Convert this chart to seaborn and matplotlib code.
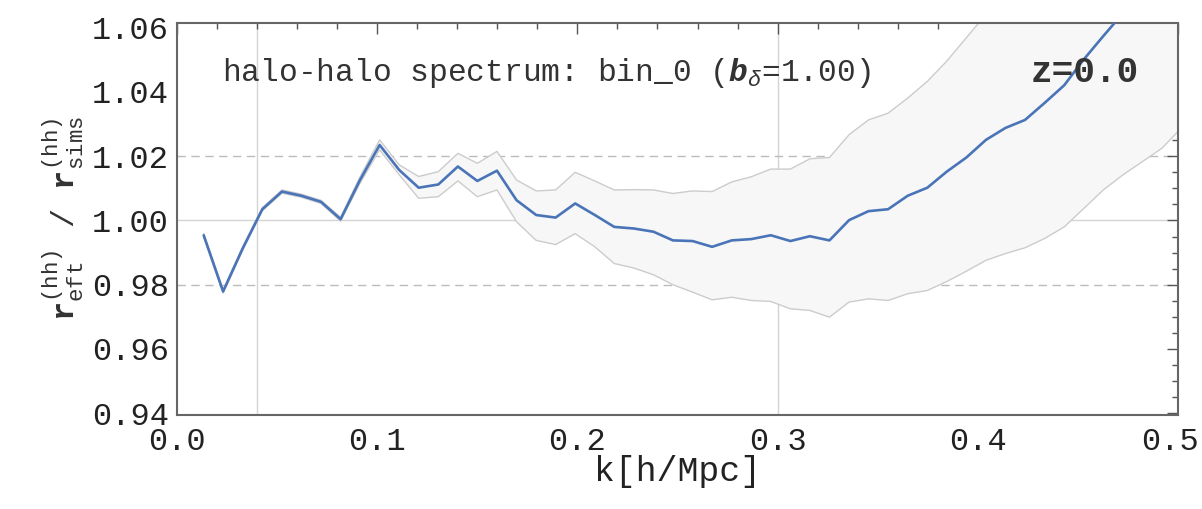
import numpy as np
import pandas as pd
import matplotlib
matplotlib.use("Agg")
import matplotlib.pyplot as plt
import matplotlib.transforms as mtransforms
import seaborn as sns
from matplotlib.ticker import MultipleLocator, FormatStrFormatter

# --- data ---
k = np.round(0.0035 + 0.00977 * np.arange(1, 52), 4)

r_ratio = [0.9954, 0.9779, 0.9913, 1.0035, 1.0090, 1.0077, 1.0058, 1.0004, 1.0126, 1.0235,
           1.0157, 1.0102, 1.0112, 1.0168, 1.0123, 1.0155, 1.0063, 1.0017, 1.0009, 1.0053,
           1.0017, 0.9980, 0.9975, 0.9965, 0.9938, 0.9936, 0.9918, 0.9938, 0.9942, 0.9954,
           0.9936, 0.9951, 0.9938, 1.0001, 1.0029, 1.0035, 1.0077, 1.0102, 1.0152, 1.0196,
           1.0251, 1.0288, 1.0313, 1.0366, 1.0421, 1.0501, 1.0574, 1.0645, 1.0720, 1.0795,
           1.0870]

band_hi = [0.9959, 0.9784, 0.9918, 1.0040, 1.0095, 1.0082, 1.0063, 1.0010, 1.0136, 1.0251,
           1.0173, 1.0137, 1.0152, 1.0209, 1.0178, 1.0215, 1.0126, 1.0092, 1.0095, 1.0150,
           1.0123, 1.0095, 1.0096, 1.0095, 1.0084, 1.0092, 1.0090, 1.0120, 1.0136, 1.0160,
           1.0160, 1.0192, 1.0196, 1.0267, 1.0313, 1.0334, 1.0381, 1.0433, 1.0496, 1.0569,
           1.0642, 1.0715, 1.0788, 1.0860, 1.0930, 1.1000, 1.1070, 1.1140, 1.1210, 1.1280,
           1.1350]

band_lo = [0.9949, 0.9774, 0.9908, 1.0030, 1.0085, 1.0072, 1.0053, 0.9998, 1.0116, 1.0220,
           1.0142, 1.0069, 1.0074, 1.0123, 1.0074, 1.0095, 0.9996, 0.9938, 0.9925, 0.9959,
           0.9918, 0.9866, 0.9852, 0.9831, 0.9800, 0.9777, 0.9753, 0.9761, 0.9751, 0.9748,
           0.9725, 0.9720, 0.9699, 0.9746, 0.9756, 0.9751, 0.9772, 0.9782, 0.9810, 0.9842,
           0.9876, 0.9897, 0.9915, 0.9944, 0.9980, 1.0037, 1.0095, 1.0142, 1.0183, 1.0225,
           1.0288]

k_lines = [0.04, 0.3]
x_ticks_major = 0.1
y_ticks_major = 0.02

df = pd.DataFrame({"k": k, "ratio": r_ratio, "hi": band_hi, "lo": band_lo})

# --- style ---
sns.set_style("white")
plt.rcParams["font.family"] = ["Liberation Mono", "DejaVu Sans Mono"]
plt.rcParams["mathtext.fontset"] = "custom"
plt.rcParams["mathtext.rm"] = "Liberation Mono"
plt.rcParams["mathtext.it"] = "Liberation Mono:italic"
plt.rcParams["mathtext.bf"] = "Liberation Mono:bold"
plt.rcParams["mathtext.bfit"] = "Liberation Mono:bold:italic"

fig = plt.figure(figsize=(12.02, 5.09), dpi=100)
ax = fig.add_axes([0.1473, 0.185, 0.8327, 0.770])

# reference lines
for kv in k_lines:
    ax.axvline(kv, color="#d4d4d4", lw=1.0, zorder=0)
ax.axhline(1.0, color="#d4d4d4", lw=1.0, zorder=0)
for yv in (0.98, 1.02):
    ax.axhline(yv, color="#bcbcbc", lw=1.0, ls=(0, (6, 4)), zorder=0)

# error band
ax.fill_between(df["k"], df["lo"], df["hi"], color="#f7f7f7", lw=0, zorder=1)
sns.lineplot(data=df, x="k", y="hi", ax=ax, color="#cccccc", lw=1.0, zorder=2)
sns.lineplot(data=df, x="k", y="lo", ax=ax, color="#cccccc", lw=1.0, zorder=2)

# main curve
sns.lineplot(data=df, x="k", y="ratio", ax=ax, color="#4a74b8", lw=1.9, zorder=3)

ax.set_xlim(0.0, 0.5)
ax.set_ylim(0.9395, 1.0615)

ax.xaxis.set_major_locator(MultipleLocator(x_ticks_major))
ax.xaxis.set_minor_locator(MultipleLocator(0.02))
ax.yaxis.set_major_locator(MultipleLocator(y_ticks_major))
ax.yaxis.set_minor_locator(MultipleLocator(0.005))
ax.xaxis.set_major_formatter(FormatStrFormatter("%.1f"))
ax.yaxis.set_major_formatter(FormatStrFormatter("%.2f"))

ax.tick_params(which="both", direction="in", top=True, right=True,
               color="#555555", width=1.0)
ax.tick_params(which="major", length=8, labelsize=23, labelcolor="#222222")
ax.tick_params(axis="x", which="major", pad=9)
ax.tick_params(axis="y", which="major", pad=6)
ax.tick_params(which="minor", length=4)
for sp in ax.spines.values():
    sp.set_color("#666666")
    sp.set_linewidth(1.5)

ax.set_xlabel("k[h/Mpc]", fontsize=25, color="#222222", labelpad=-2)
ax.set_ylabel(r"$\mathbf{r}_{\mathrm{eft}}^{\mathrm{(hh)}}$ / $\mathbf{r}_{\mathrm{sims}}^{\mathrm{(hh)}}$",
              fontsize=23, color="#333333", labelpad=4)

ax.text(0.0225, 1.046, r"halo-halo spectrum: bin_0 ($\mathbfit{b}_{\delta}$=1.00)",
        fontsize=22.5, color="#333333", va="center", ha="left", zorder=4)
ax.text(0.4265, 1.046, "z=0.0", fontsize=26, fontweight="bold", color="#333333",
        va="center", ha="left", zorder=4)

# keep the 0.5 tick label inside the canvas
fig.canvas.draw()
locs = ax.xaxis.get_majorticklocs()
ticks = ax.xaxis.get_major_ticks(len(locs))
for loc, tk in zip(locs, ticks):
    if np.isclose(loc, 0.5):
        tk.label1.set_transform(tk.label1.get_transform() +
                                mtransforms.ScaledTranslation(-0.08, 0, fig.dpi_scale_trans))

fig.savefig("out.png", dpi=100)
